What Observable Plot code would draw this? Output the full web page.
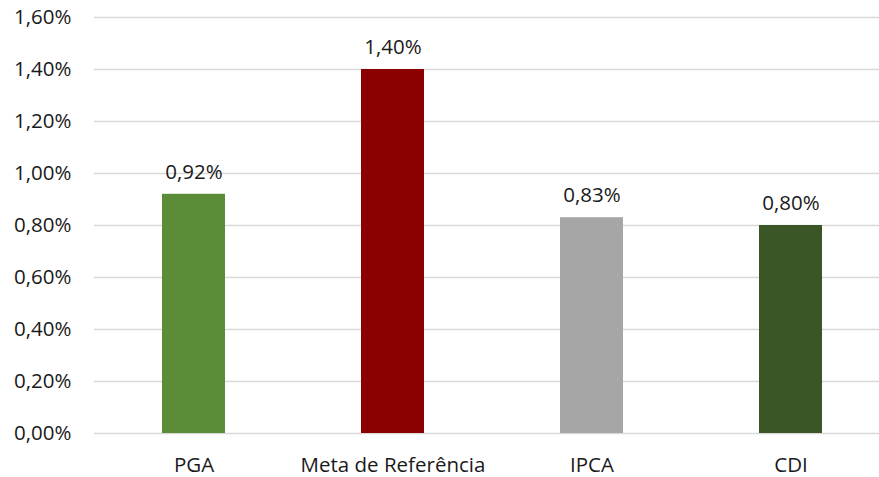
<!DOCTYPE html>
<html>
<head>
<meta charset="utf-8">
<script src="https://cdn.jsdelivr.net/npm/d3@7"></script>
<script src="https://cdn.jsdelivr.net/npm/@observablehq/plot@0.6"></script>
<style>
  html, body { margin: 0; padding: 0; background: #fff; overflow: hidden; }
  #chart svg { display: block; max-width: none !important; }
</style>
</head>
<body>
<div id="chart"></div>
<script>
const categories = ["PGA", "Meta de Referência", "IPCA", "CDI"];
const values = [0.92, 1.40, 0.83, 0.80];
const colors = ["#5B8C38", "#8B0000", "#A6A6A6", "#3A5626"];
const yTicks = [0, 0.2, 0.4, 0.6, 0.8, 1.0, 1.2, 1.4, 1.6];

const data = categories.map((c, i) => ({category: c, value: values[i], color: colors[i]}));
const fmt = v => v.toFixed(2).replace(".", ",") + "%";

const chart = Plot.plot({
  width: 879,
  height: 477,
  marginTop: 17,
  marginBottom: 44,
  marginLeft: 94,
  marginRight: 0,
  style: {fontFamily: "'Open Sans', sans-serif", fontSize: "21px", color: "#1a1a1a", background: "#fff", overflow: "visible"},
  x: {domain: categories, range: [94, 890], paddingInner: 0.683, paddingOuter: 0.3415, label: null},
  y: {domain: [0, 1.6], label: null},
  marks: [
    Plot.ruleY(yTicks, {stroke: "#d9d9d9", strokeWidth: 1.6, insetRight: -20}),
    Plot.barY(data, {x: "category", y: "value", fill: "color"}),
    Plot.text(data, {x: "category", y: "value", text: d => fmt(d.value), dy: -22, fill: "#1a1a1a", fontSize: 20.5}),
    Plot.axisY({ticks: yTicks, tickFormat: fmt, tickSize: 0, tickPadding: 23, fontSize: 20.5, label: null}),
    Plot.axisX({tickSize: 0, tickPadding: 24, fontSize: 20.5, label: null})
  ]
});
document.getElementById("chart").appendChild(chart);
</script>
</body>
</html>
